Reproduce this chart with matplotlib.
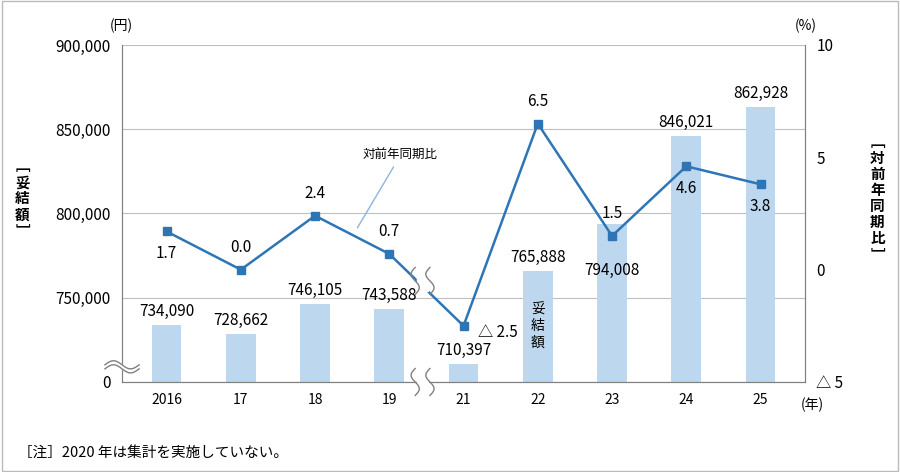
import numpy as np
import matplotlib
matplotlib.use("Agg")
import matplotlib.pyplot as plt
from matplotlib.patches import Rectangle

plt.rcParams["font.family"] = ["Noto Sans CJK JP", "DejaVu Sans"]

years = ["2016", "17", "18", "19", "21", "22", "23", "24", "25"]
amounts = [734090, 728662, 746105, 743588, 710397, 765888, 794008, 846021, 862928]
yoy = [1.7, 0.0, 2.4, 0.7, -2.5, 6.5, 1.5, 4.6, 3.8]
yoy_labels = ["1.7", "0.0", "2.4", "0.7", "△ 2.5", "6.5", "1.5", "4.6", "3.8"]
yoy_pos = ["below", "above", "above", "above", "right", "above", "above", "below", "below"]

fig = plt.figure(figsize=(9, 4.72), dpi=100)
fig.patches.append(Rectangle((0.002, 0.002), 0.996, 0.996, transform=fig.transFigure,
                             fill=False, edgecolor="#bbbbbb", lw=1))
ax = fig.add_axes([0.1356, 0.1907, 0.7589, 0.714])
x = np.arange(len(years))
base = 700000
ax.bar(x, np.array(amounts) - base, bottom=base, width=0.4, color="#bdd7ee", zorder=2)
ax.set_ylim(700000, 900000)
ax.set_xlim(-0.6, len(years) - 0.4)
ax.set_yticks([700000, 750000, 800000, 850000, 900000])
ax.set_yticklabels(["0", "750,000", "800,000", "850,000", "900,000"], fontsize=11)
ax.set_xticks(x)
ax.set_xticklabels(years, fontsize=10)
ax.tick_params(length=0, pad=8)
ax.grid(axis="y", color="#bfbfbf", lw=0.8, zorder=0)
ax.spines["top"].set_visible(False)
for s in ["left", "right", "bottom"]:
    ax.spines[s].set_color("#808080")

for i, v in enumerate(amounts):
    txt = f"{v:,}"
    if years[i] == "23":
        ax.text(i, v - 28000, txt, ha="center", va="center", fontsize=11, zorder=5)
    else:
        ax.text(i, v + 3000, txt, ha="center", va="bottom", fontsize=11, zorder=5)
ax.text(5, 733000, "妥\n結\n額", ha="center", va="center", fontsize=10, linespacing=1.2, zorder=5)

ax2 = ax.twinx()
ax2.set_ylim(-5, 10)
ax2.set_yticks([-5, 0, 5, 10])
ax2.set_yticklabels(["△ 5", "0", "5", "10"], fontsize=11)
ax2.tick_params(length=0, pad=8)
ax2.spines["top"].set_visible(False)
for s in ["left", "right", "bottom"]:
    ax2.spines[s].set_color("#808080")
ax2.plot(x, yoy, color="#2e75b6", lw=1.8, marker="s", ms=6, zorder=4)
for i, (v, lab, p) in enumerate(zip(yoy, yoy_labels, yoy_pos)):
    if p == "above":
        ax2.text(i, v + 0.6, lab, ha="center", va="bottom", fontsize=11)
    elif p == "below":
        ax2.text(i, v - 0.6, lab, ha="center", va="top", fontsize=11)
    else:
        ax2.text(i + 0.2, v - 0.3, lab, ha="left", va="center", fontsize=11)
ax2.annotate("対前年同期比", xy=(2.55, 1.75), xytext=(3.15, 4.8), fontsize=9,
             ha="center", va="bottom",
             arrowprops=dict(arrowstyle="-", color="#8db3e2", lw=1))

def wave(ax_, cx, cy, w, h, vertical=False):
    t = np.linspace(0, 1, 60)
    for off in (-0.006, 0.006):
        if vertical:
            xs = cx + off * 1.8 + np.sin(t * 2 * np.pi) * w
            ys = cy - h / 2 + t * h
        else:
            xs = cx - w / 2 + t * w
            ys = cy + off + np.sin(t * 2 * np.pi) * h
        ax_.plot(xs, ys, transform=ax_.transAxes, color="#808080", lw=1,
                 clip_on=False, zorder=10)
    if vertical:
        ax_.add_patch(Rectangle((cx - 0.008, cy - h / 2 + 0.01), 0.016, h - 0.02,
                                transform=ax_.transAxes, color="white", clip_on=False, zorder=9))
    else:
        ax_.add_patch(Rectangle((cx - w / 2, cy - 0.006), w, 0.012,
                                transform=ax_.transAxes, color="white", clip_on=False, zorder=9))

wave(ax2, 0.0, 0.045, 0.05, 0.012)
wave(ax2, 0.44, 0.0, 0.006, 0.08, vertical=True)
wave(ax2, 0.44, 0.3, 0.006, 0.08, vertical=True)

fig.text(0.135, 0.93, "(円)", ha="center", va="bottom", fontsize=10)
fig.text(0.895, 0.93, "(%)", ha="center", va="bottom", fontsize=10)
fig.text(0.903, 0.143, "(年)", ha="center", va="center", fontsize=10)
fig.text(0.025, 0.58, "﹇\n妥\n結\n額\n﹈", ha="center", va="center", fontsize=10.5,
         fontweight="bold", linespacing=1.0)
fig.text(0.975, 0.58, "﹇\n対\n前\n年\n同\n期\n比\n﹈", ha="center", va="center",
         fontsize=10.5, fontweight="bold", linespacing=1.0)
fig.text(0.02, 0.04, "［注］2020 年は集計を実施していない。", ha="left", va="center", fontsize=10.5)

fig.savefig("out.png", dpi=100)
